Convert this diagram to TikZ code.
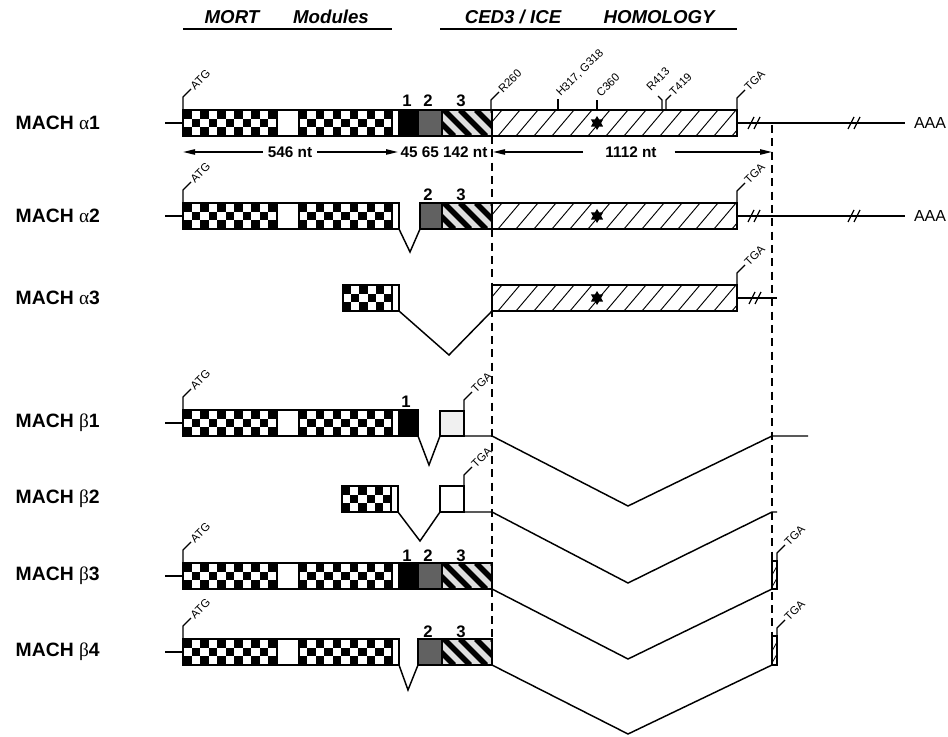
\documentclass[tikz,border=0pt]{standalone}
\usepackage{fontspec}
\setmainfont{Liberation Sans}
\newfontfamily\grk{Liberation Serif}
\usetikzlibrary{arrows.meta,shapes.geometric}
% checkerboard: x1, x2, ytop, ncols
\newcommand\mychk[4]{%
  \pgfmathsetmacro\mycw{(#2-#1)/#4}%
  \foreach \i in {1,...,#4}{\foreach \j in {0,1,2}{%
    \pgfmathtruncatemacro\mypp{mod(\i+\j,2)}%
    \ifnum\mypp=1 \fill (#1+\mycw*\i-\mycw,#3+\j*26/3) rectangle ++(\mycw,26/3);\fi}}%
  \draw (#1,#3) rectangle (#2,#3+26);%
}
% CED3 hatching: x1, x2, ytop
\newcommand\myhatch[3]{%
  \begin{scope}\clip (#1,#3) rectangle (#2,#3+26);
  \foreach \k in {0,...,16}{\draw[hatchln] (#1+\k*18-12,#3+26) -- ++(22,-26);}
  \end{scope}
  \draw (#1,#3) rectangle (#2,#3+26);%
}
% module 3 stripes: x1, ytop
\newcommand\mystripe[2]{%
  \begin{scope}\clip (#1,#2) rectangle (#1+50,#2+26);
  \fill[gray!25] (#1,#2) rectangle (#1+50,#2+26);
  \foreach \k in {-2,...,3}{\draw[line width=4pt] (#1+\k*16+2,#2) -- ++(26,26);}
  \end{scope}%
}
% site marker: x, ytop, length, label
\newcommand\mymark[4]{%
  \draw[line width=0.9pt] (#1,#2) -- (#1,#2-#3) -- ++(8,-8) node[mk]{#4};%
}
% break mark at x, y
\newcommand\mybreak[2]{%
  \draw[line width=0.9pt] (#1-4,#2+6) -- (#1+2,#2-6) (#1+2,#2+6) -- (#1+8,#2-6);%
}
\newcommand\mga{{\grk\mdseries\symbol{"03B1}}}
\newcommand\mgb{{\grk\mdseries\symbol{"03B2}}}
\begin{document}
\begin{tikzpicture}[x=0.75pt,y=-0.75pt,line width=1.1pt,
  lbl/.style={font=\fontsize{14.5}{16}\selectfont\bfseries,anchor=west,inner sep=0pt},
  hdr/.style={font=\fontsize{14}{15}\selectfont\bfseries\itshape,anchor=base,inner sep=0pt},
  mk/.style={font=\fontsize{8.5}{9}\selectfont,rotate=45,anchor=west,inner sep=1pt},
  num/.style={font=\fontsize{12.5}{13}\selectfont\bfseries,anchor=base,inner sep=0pt},
  nt/.style={font=\fontsize{11.5}{13}\selectfont\bfseries,inner sep=1pt},
  aaa/.style={font=\fontsize{12}{13}\selectfont,inner sep=0pt},
  arr/.style={-{Triangle[length=9pt,width=4pt]},line width=1pt},
  dsh/.style={dash pattern=on 6pt off 4pt,line width=1.1pt},
  hatchln/.style={line width=0.7pt},
  star6/.style={star,star points=6,star point ratio=1.7,fill,inner sep=0pt,minimum size=10.5pt},
]
\useasboundingbox (0,0) rectangle (948,737);

% ---------------- headers ----------------
\node[hdr] (hmort) at (232,24) {MORT};
\node[hdr] (hmod) at (331,24) {Modules};
\node[hdr] (hced) at (513,24) {CED3 / ICE};
\node[hdr] (hhom) at (659,24) {HOMOLOGY};
\draw (183,29) -- (392,29);
\draw (440,29) -- (737,29);

% ---------------- dashed guides ----------------
\coordinate (d1t) at (492,136); \coordinate (d1b) at (492,640);
\coordinate (d2t) at (772,125); \coordinate (d2b) at (772,650);
\draw[dsh] (d1t) -- (d1b);
\draw[dsh] (d2t) -- (d2b);

% ---------------- row labels ----------------
\node[lbl] (la1) at (15,123) {MACH \mga1};
\node[lbl] (la2) at (15,216) {MACH \mga2};
\node[lbl] (la3) at (15,298) {MACH \mga3};
\node[lbl] (lb1) at (15,423) {MACH \mgb1};
\node[lbl] (lb2) at (15,499) {MACH \mgb2};
\node[lbl] (lb3) at (15,576) {MACH \mgb3};
\node[lbl] (lb4) at (15,652) {MACH \mgb4};

% ================= MACH alpha1 =================
\draw (165,123) -- (183,123);
\draw (737,123) -- (905,123);
\mybreak{752}{123}\mybreak{852}{123}
\node[aaa] (aaa1) at (930,123) {AAA};
\mychk{183}{277}{110}{11}
\mychk{299}{392}{110}{11}
\fill (399,110) rectangle (419,136);
\fill[black!62] (419,110) rectangle (442,136);
\mystripe{442}{110}
\myhatch{492}{737}{110}
\draw (183,110) rectangle (492,136);
\draw (392,110) -- (392,136) (399,110) -- (399,136) (442,110) -- (442,136);
\node[star6] (s1) at (597,123) {};
\node[num] at (407,107) {1};
\node[num] at (428,107) {2};
\node[num] at (461,107) {3};
\mymark{183}{110}{13}{ATG}
\mymark{491}{110}{10}{R260}
\mymark{737}{110}{12}{TGA}
\draw[line width=0.9pt] (558,110) -- (558,99);
\node[mk] at (557,96) {H317, G318};
\draw[line width=0.9pt] (597,110) -- (597,100);
\node[mk] at (597,96) {C360};
\draw[line width=0.9pt] (662,110) -- (662,100) -- (658,96);
\node[mk,anchor=center] at (658,79) {R413};
\draw[line width=0.9pt] (666,110) -- (666,100) -- (671,95);
\node[mk] at (670,95) {T419};

% length arrows
\node[nt] (n546) at (290,152) {546 nt};
\node[nt] (n45) at (444,152) {45 65 142 nt};
\node[nt] (n1112) at (631,152) {1112 nt};
\coordinate (a1l) at (183,152); \coordinate (a1r) at (398,152);
\coordinate (a2l) at (493,152); \coordinate (a2r) at (772,152);
\draw[arr] (n546.west) ++(-3,0) -- (a1l);
\draw[arr] (n546.east) ++(3,0) -- (a1r);
\draw[arr] (583,152) -- (a2l);
\draw[arr] (n1112.east) ++(16,0) -- (a2r);

% ================= MACH alpha2 =================
\draw (165,216) -- (183,216);
\draw (737,216) -- (905,216);
\mybreak{752}{216}\mybreak{852}{216}
\node[aaa] (aaa2) at (930,216) {AAA};
\mychk{183}{277}{203}{11}
\mychk{299}{392}{203}{11}
\draw (183,203) rectangle (399,229);
\draw (399,229) -- (410,252) -- (420,229);
\fill[black!62] (420,203) rectangle (442,229);
\mystripe{442}{203}
\myhatch{492}{737}{203}
\draw (420,203) rectangle (492,229);
\draw (442,203) -- (442,229);
\node[star6] (s2) at (597,216) {};
\node[num] at (428,201) {2};
\node[num] at (461,201) {3};
\mymark{183}{203}{13}{ATG}
\mymark{737}{203}{12}{TGA}

% ================= MACH alpha3 =================
\draw (737,298) -- (777,298);
\mybreak{753}{298}
\mychk{343}{392}{285}{6}
\draw (343,285) rectangle (399,311);
\draw (399,311) -- (449,355) -- (492,311);
\myhatch{492}{737}{285}
\node[star6] (s3) at (597,298) {};
\mymark{737}{285}{12}{TGA}

% ================= MACH beta1 =================
\draw (165,423) -- (183,423);
\mychk{183}{277}{410}{11}
\mychk{299}{392}{410}{11}
\fill (399,410) rectangle (418,436);
\draw (183,410) rectangle (418,436);
\draw (392,410) -- (392,436) (399,410) -- (399,436);
\draw (418,436) -- (429,465) -- (440,436);
\filldraw[fill=gray!12] (440,411) rectangle (464,436);
\draw (464,436) -- (492,436) -- (628,506) -- (772,436) -- (808,436);
\node[num] at (406,407) {1};
\mymark{183}{410}{13}{ATG}
\mymark{464}{411}{11}{TGA}

% ================= MACH beta2 =================
\mychk{342}{391}{486}{6}
\draw (342,486) rectangle (398,512);
\draw (398,512) -- (420,541) -- (440,512);
\draw (440,486) rectangle (464,512);
\draw (464,512) -- (492,512) -- (628,583) -- (772,512) -- (777,512);
\mymark{464}{486}{11}{TGA}

% ================= MACH beta3 =================
\draw (165,576) -- (183,576);
\mychk{183}{277}{563}{11}
\mychk{299}{392}{563}{11}
\fill (399,563) rectangle (419,589);
\fill[black!62] (419,563) rectangle (442,589);
\mystripe{442}{563}
\draw (183,563) rectangle (492,589);
\draw (392,563) -- (392,589) (399,563) -- (399,589) (442,563) -- (442,589);
\node[num] at (407,561) {1};
\node[num] at (428,561) {2};
\node[num] at (461,561) {3};
\mymark{183}{563}{13}{ATG}
\draw (492,589) -- (628,659) -- (772,589);
\draw[line width=0.9pt] (772,561) rectangle (777,589);
\draw[line width=0.6pt] (772,575) -- (777,566) (772,587) -- (777,578);
\mymark{777}{561}{8}{TGA}

% ================= MACH beta4 =================
\draw (165,652) -- (183,652);
\mychk{183}{277}{639}{11}
\mychk{299}{392}{639}{11}
\draw (183,639) rectangle (399,665);
\draw (399,665) -- (408,690) -- (418,665);
\fill[black!62] (418,639) rectangle (442,665);
\mystripe{442}{639}
\draw (418,639) rectangle (492,665);
\draw (442,639) -- (442,665);
\node[num] at (428,637) {2};
\node[num] at (461,637) {3};
\mymark{183}{639}{13}{ATG}
\draw (492,665) -- (628,734) -- (772,665);
\draw[line width=0.9pt] (772,636) rectangle (777,665);
\draw[line width=0.6pt] (772,651) -- (777,642) (772,663) -- (777,654);
\mymark{777}{636}{8}{TGA}
\end{tikzpicture}
\end{document}
